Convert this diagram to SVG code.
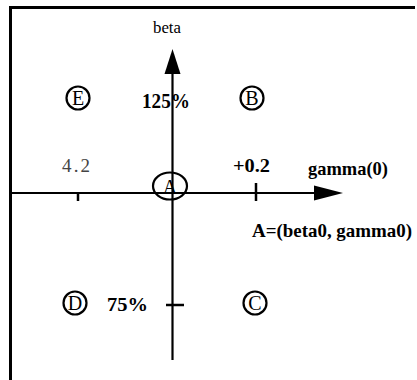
<svg xmlns="http://www.w3.org/2000/svg" width="417" height="380" viewBox="0 0 417 380">
<style>
.frame{stroke:#000;stroke-width:3;fill:none}
.axis{stroke:#000;stroke-width:2.2;fill:none}
.tick{stroke:#000;stroke-width:2.5}
.node{fill:none;stroke:#000;stroke-width:2.2}
.t{font-family:"Liberation Serif","Times New Roman",serif;fill:#000}
.b{font-weight:bold}
.ltr{font-size:20px;text-anchor:middle}
</style>
<rect width="417" height="380" fill="#fff"/>
<path class="frame" d="M10.5,380 V7.5 H415"/>
<g id="connectors">
<line class="axis" x1="172.5" y1="360" x2="172.5" y2="70"/>
<polygon points="172.5,49 164.5,74 180.5,74" fill="#000"/>
<line class="axis" x1="11" y1="193" x2="318" y2="193" stroke-width="2.8"/>
<polygon points="343,193 314,185.5 314,200.5" fill="#000"/>
<line class="tick" x1="78" y1="193" x2="78" y2="201"/>
<line class="tick" x1="256" y1="183" x2="256" y2="201"/>
<line class="tick" x1="166" y1="305" x2="184" y2="305"/>
</g>
<g id="A"><ellipse class="node" cx="170" cy="186" rx="17" ry="13.5"/><text class="t ltr" x="170" y="194">A</text></g>
<g id="E"><circle class="node" cx="78" cy="98" r="11.5"/><text class="t ltr" x="78" y="105">E</text></g>
<g id="B"><circle class="node" cx="252" cy="98" r="11.5"/><text class="t ltr" x="252" y="105">B</text></g>
<g id="D"><circle class="node" cx="75" cy="303" r="11.5"/><text class="t ltr" x="75" y="310">D</text></g>
<g id="C"><circle class="node" cx="255" cy="303" r="11.5"/><text class="t ltr" x="255" y="310">C</text></g>
<g id="labels">
<text class="t" x="153" y="33" font-size="17" textLength="28" lengthAdjust="spacingAndGlyphs">beta</text>
<text class="t b" x="142" y="108" font-size="20" textLength="48" lengthAdjust="spacingAndGlyphs">125%</text>
<text class="t" x="62" y="172" font-size="19" textLength="28" lengthAdjust="spacing" style="fill:#444">4.2</text>
<text class="t b" x="233" y="172" font-size="19" textLength="37" lengthAdjust="spacingAndGlyphs">+0.2</text>
<text class="t b" x="308" y="175" font-size="19" textLength="80" lengthAdjust="spacingAndGlyphs">gamma(0)</text>
<text class="t b" x="252" y="237" font-size="19" textLength="160" lengthAdjust="spacingAndGlyphs">A=(beta0, gamma0)</text>
<text class="t b" x="107" y="311" font-size="19" textLength="41" lengthAdjust="spacingAndGlyphs">75%</text>
</g>
</svg>
